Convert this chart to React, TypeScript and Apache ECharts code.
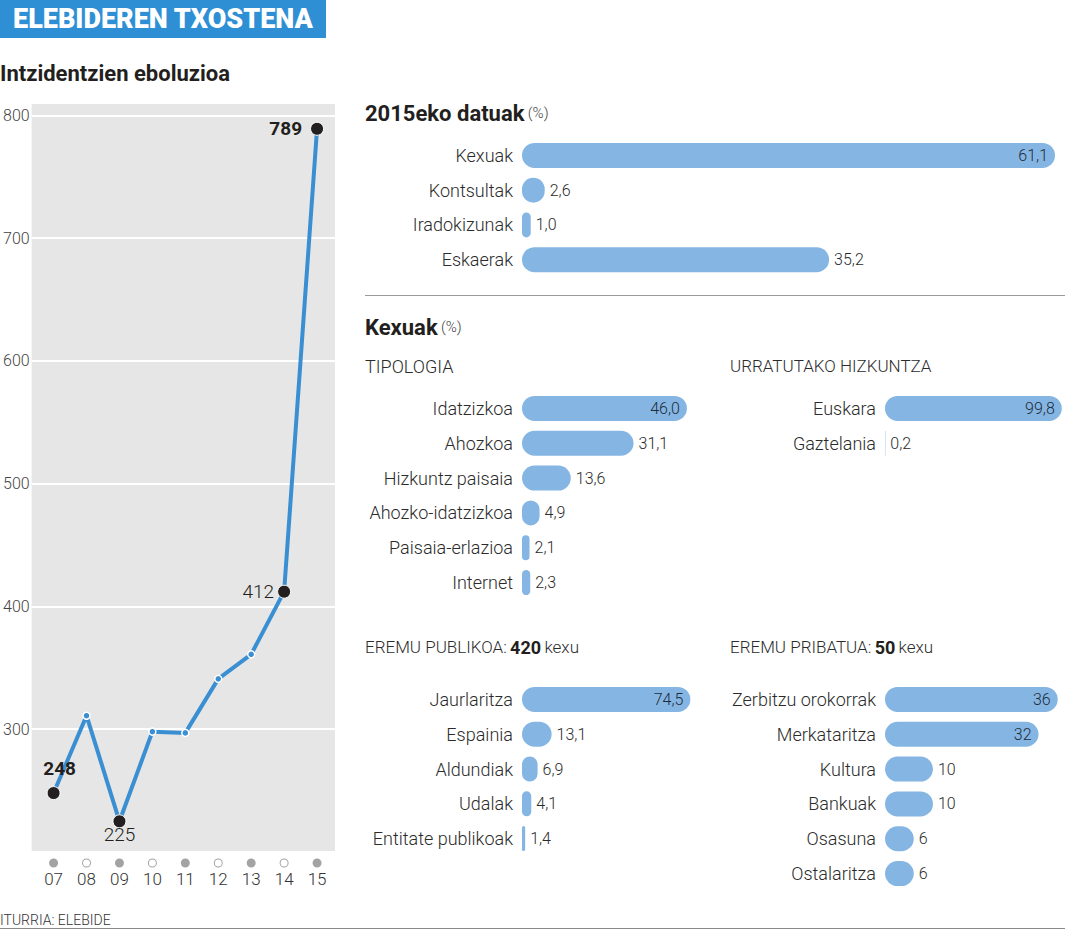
import React, { useEffect, useRef } from "react";
import * as echarts from "echarts";

const years = ["07", "08", "09", "10", "11", "12", "13", "14", "15"];
const incidents = [248, 311, 225, 298, 297, 341, 361, 412, 789];
const highlighted = [0, 2, 7, 8];

const summaryCats = ["Kexuak", "Kontsultak", "Iradokizunak", "Eskaerak"];
const summaryVals = [61.1, 2.6, 1.0, 35.2];

const typologyCats = ["Idatzizkoa", "Ahozkoa", "Hizkuntz paisaia", "Ahozko-idatzizkoa", "Paisaia-erlazioa", "Internet"];
const typologyVals = [46.0, 31.1, 13.6, 4.9, 2.1, 2.3];

const languageCats = ["Euskara", "Gaztelania"];
const languageVals = [99.8, 0.2];

const publicCats = ["Jaurlaritza", "Espainia", "Aldundiak", "Udalak", "Entitate publikoak"];
const publicVals = [74.5, 13.1, 6.9, 4.1, 1.4];

const privateCats = ["Zerbitzu orokorrak", "Merkataritza", "Kultura", "Bankuak", "Osasuna", "Ostalaritza"];
const privateVals = [36, 32, 10, 10, 6, 6];

const FONT = "Roboto";
const BAR = "#85b6e3";
const LINE = "#3a8fd3";
const DARK = "#231f20";

export default function App() {
  const ref = useRef<HTMLDivElement>(null);
  useEffect(() => {
    document.body.style.margin = "0";
    const chart = echarts.init(ref.current!, null, { renderer: "svg" });

    const panels = [
      { cats: summaryCats, vals: summaryVals, left: 522, top: 138, width: 540, height: 139, max: 61.9, dec: 1, insideMin: 50 },
      { cats: typologyCats, vals: typologyVals, left: 522, top: 391, width: 180, height: 209, max: 50.2, dec: 1, insideMin: 40 },
      { cats: languageCats, vals: languageVals, left: 885, top: 391, width: 178, height: 69.6, max: 100.5, dec: 1, insideMin: 50 },
      { cats: publicCats, vals: publicVals, left: 522, top: 682, width: 200, height: 174, max: 88.5, dec: 1, insideMin: 50 },
      { cats: privateCats, vals: privateVals, left: 885, top: 682, width: 178, height: 209, max: 37.1, dec: 0, insideMin: 20 },
    ];

    const grids: any[] = [
      { left: 31, top: 103, width: 304, height: 749, show: true, backgroundColor: "#e6e6e6", borderWidth: 0 },
    ];
    const xAxes: any[] = [
      {
        type: "value",
        gridIndex: 0,
        min: -0.667,
        max: 8.545,
        axisLine: { show: false },
        axisTick: { show: false },
        splitLine: { show: false },
        axisLabel: {
          customValues: years.map((_, i) => i),
          margin: 5,
          formatter: (v: number) => {
            const i = Math.round(v);
            return (i % 2 === 0 ? "{fd| }" : "{hd| }") + "\n{t|" + years[i] + "}";
          },
          rich: {
            fd: { width: 9, height: 9, borderRadius: 4.5, backgroundColor: "#a3a3a3", lineHeight: 12 },
            hd: { width: 7, height: 7, borderRadius: 4, borderColor: "#a3a3a3", borderWidth: 1, backgroundColor: "#fff", lineHeight: 12 },
            t: { fontSize: 17, color: "#333", fontFamily: FONT, fontWeight: 300, lineHeight: 20 },
          },
        },
      },
    ];
    const yAxes: any[] = [
      {
        type: "value",
        gridIndex: 0,
        min: 200,
        max: 810,
        interval: 100,
        axisLine: { show: false },
        axisTick: { show: false },
        splitLine: { lineStyle: { color: "#ffffff", width: 2 } },
        axisLabel: {
          margin: 2,
          fontSize: 16,
          color: "#444",
          fontFamily: FONT,
          fontWeight: 300,
          formatter: (v: number) => (v % 100 === 0 && v !== 200 ? String(v) : ""),
        },
      },
    ];
    const series: any[] = [
      {
        type: "line",
        xAxisIndex: 0,
        yAxisIndex: 0,
        lineStyle: { color: LINE, width: 4 },
        symbol: "circle",
        symbolSize: 7,
        itemStyle: { color: LINE, borderColor: "#fff", borderWidth: 1.5 },
        z: 3,
        data: incidents.map((v, i) => {
          if (!highlighted.includes(i)) return [i, v];
          const bold = i === 0 || i === 8;
          let label: any = { show: true, fontSize: 19, color: DARK, fontFamily: FONT, fontWeight: bold ? "bold" : 300 };
          if (i === 0) label = { ...label, position: "top", distance: 8, offset: [6, 0] };
          if (i === 2) label = { ...label, position: "bottom", distance: 0, offset: [0, -3] };
          if (i === 7) label = { ...label, position: "left", distance: 3 };
          if (i === 8) label = { ...label, position: "left", distance: 8 };
          return { value: [i, v], symbolSize: 13, itemStyle: { color: DARK, borderColor: "#fff", borderWidth: 1 }, label };
        }),
      },
    ];

    panels.forEach((p, k) => {
      const gi = k + 1;
      grids.push({ left: p.left, top: p.top, width: p.width, height: p.height });
      xAxes.push({ type: "value", gridIndex: gi, min: 0, max: p.max, show: false });
      yAxes.push({
        type: "category",
        gridIndex: gi,
        data: p.cats,
        inverse: true,
        axisLine: { show: false },
        axisTick: { show: false },
        splitLine: { show: false },
        axisLabel: { fontSize: 18, color: "#2b2b2b", fontFamily: FONT, fontWeight: 300, margin: 9 },
      });
      series.push({
        type: "bar",
        xAxisIndex: gi,
        yAxisIndex: gi,
        barWidth: 25,
        itemStyle: { color: BAR, borderRadius: 12.5 },
        data: p.vals.map((v) => {
          const inside = v >= p.insideMin;
          return {
            value: v,
            label: {
              show: true,
              position: inside ? "insideRight" : "right",
              distance: inside ? 7 : 5,
              fontSize: 16,
              fontFamily: FONT,
              fontWeight: 300,
              color: inside ? "#1e2b3a" : "#2b2b2b",
              formatter: () => v.toFixed(p.dec).replace(".", ","),
            },
          };
        }),
      });
    });

    const graphic: any[] = [
      { type: "rect", shape: { x: 0, y: 0, width: 326, height: 38 }, style: { fill: "#2f8fd5" } },
      {
        type: "text",
        x: 163,
        y: 19,
        style: { text: "ELEBIDEREN TXOSTENA", fill: "#fff", font: `900 27px ${FONT}`, align: "center", verticalAlign: "middle" },
      },
      {
        type: "text",
        x: 0,
        y: 73,
        style: { text: "Intzidentzien eboluzioa", fill: DARK, font: `bold 22px ${FONT}`, verticalAlign: "middle" },
      },
      {
        type: "text",
        x: 365,
        y: 113,
        style: {
          text: "{b|2015eko datuak} {s|(%)}",
          verticalAlign: "middle",
          rich: {
            b: { font: `bold 22px ${FONT}`, fill: DARK },
            s: { font: `300 15px ${FONT}`, fill: "#444" },
          },
        },
      },
      { type: "line", shape: { x1: 365, y1: 295.5, x2: 1065, y2: 295.5 }, style: { stroke: "#9a9a9a", lineWidth: 1 } },
      {
        type: "text",
        x: 365,
        y: 327,
        style: {
          text: "{b|Kexuak} {s|(%)}",
          verticalAlign: "middle",
          rich: {
            b: { font: `bold 22px ${FONT}`, fill: DARK },
            s: { font: `300 15px ${FONT}`, fill: "#444" },
          },
        },
      },
      { type: "text", x: 365, y: 366, style: { text: "TIPOLOGIA", font: `300 18px ${FONT}`, fill: "#2b2b2b", verticalAlign: "middle" } },
      { type: "text", x: 730, y: 366, style: { text: "URRATUTAKO HIZKUNTZA", font: `300 17px ${FONT}`, fill: "#2b2b2b", verticalAlign: "middle" } },
      {
        type: "text",
        x: 365,
        y: 647,
        style: {
          text: "{r|EREMU PUBLIKOA:} {b|420} {r|kexu}",
          verticalAlign: "middle",
          rich: { r: { font: `300 17px ${FONT}`, fill: "#2b2b2b" }, b: { font: `bold 18px ${FONT}`, fill: DARK } },
        },
      },
      {
        type: "text",
        x: 730,
        y: 647,
        style: {
          text: "{r|EREMU PRIBATUA:} {b|50} {r|kexu}",
          verticalAlign: "middle",
          rich: { r: { font: `300 17px ${FONT}`, fill: "#2b2b2b" }, b: { font: `bold 18px ${FONT}`, fill: DARK } },
        },
      },
      { type: "text", x: 0, y: 920, style: { text: "ITURRIA: ELEBIDE", font: `300 14px ${FONT}`, fill: "#333", verticalAlign: "middle" } },
      { type: "line", shape: { x1: 0, y1: 928.5, x2: 1065, y2: 928.5 }, style: { stroke: "#8a8a8a", lineWidth: 1 } },
    ];

    chart.setOption({
      animation: false,
      textStyle: { fontFamily: FONT },
      grid: grids,
      xAxis: xAxes,
      yAxis: yAxes,
      series,
      graphic,
    });
    return () => chart.dispose();
  }, []);
  return <div ref={ref} style={{ width: 1065, height: 930 }} />;
}
